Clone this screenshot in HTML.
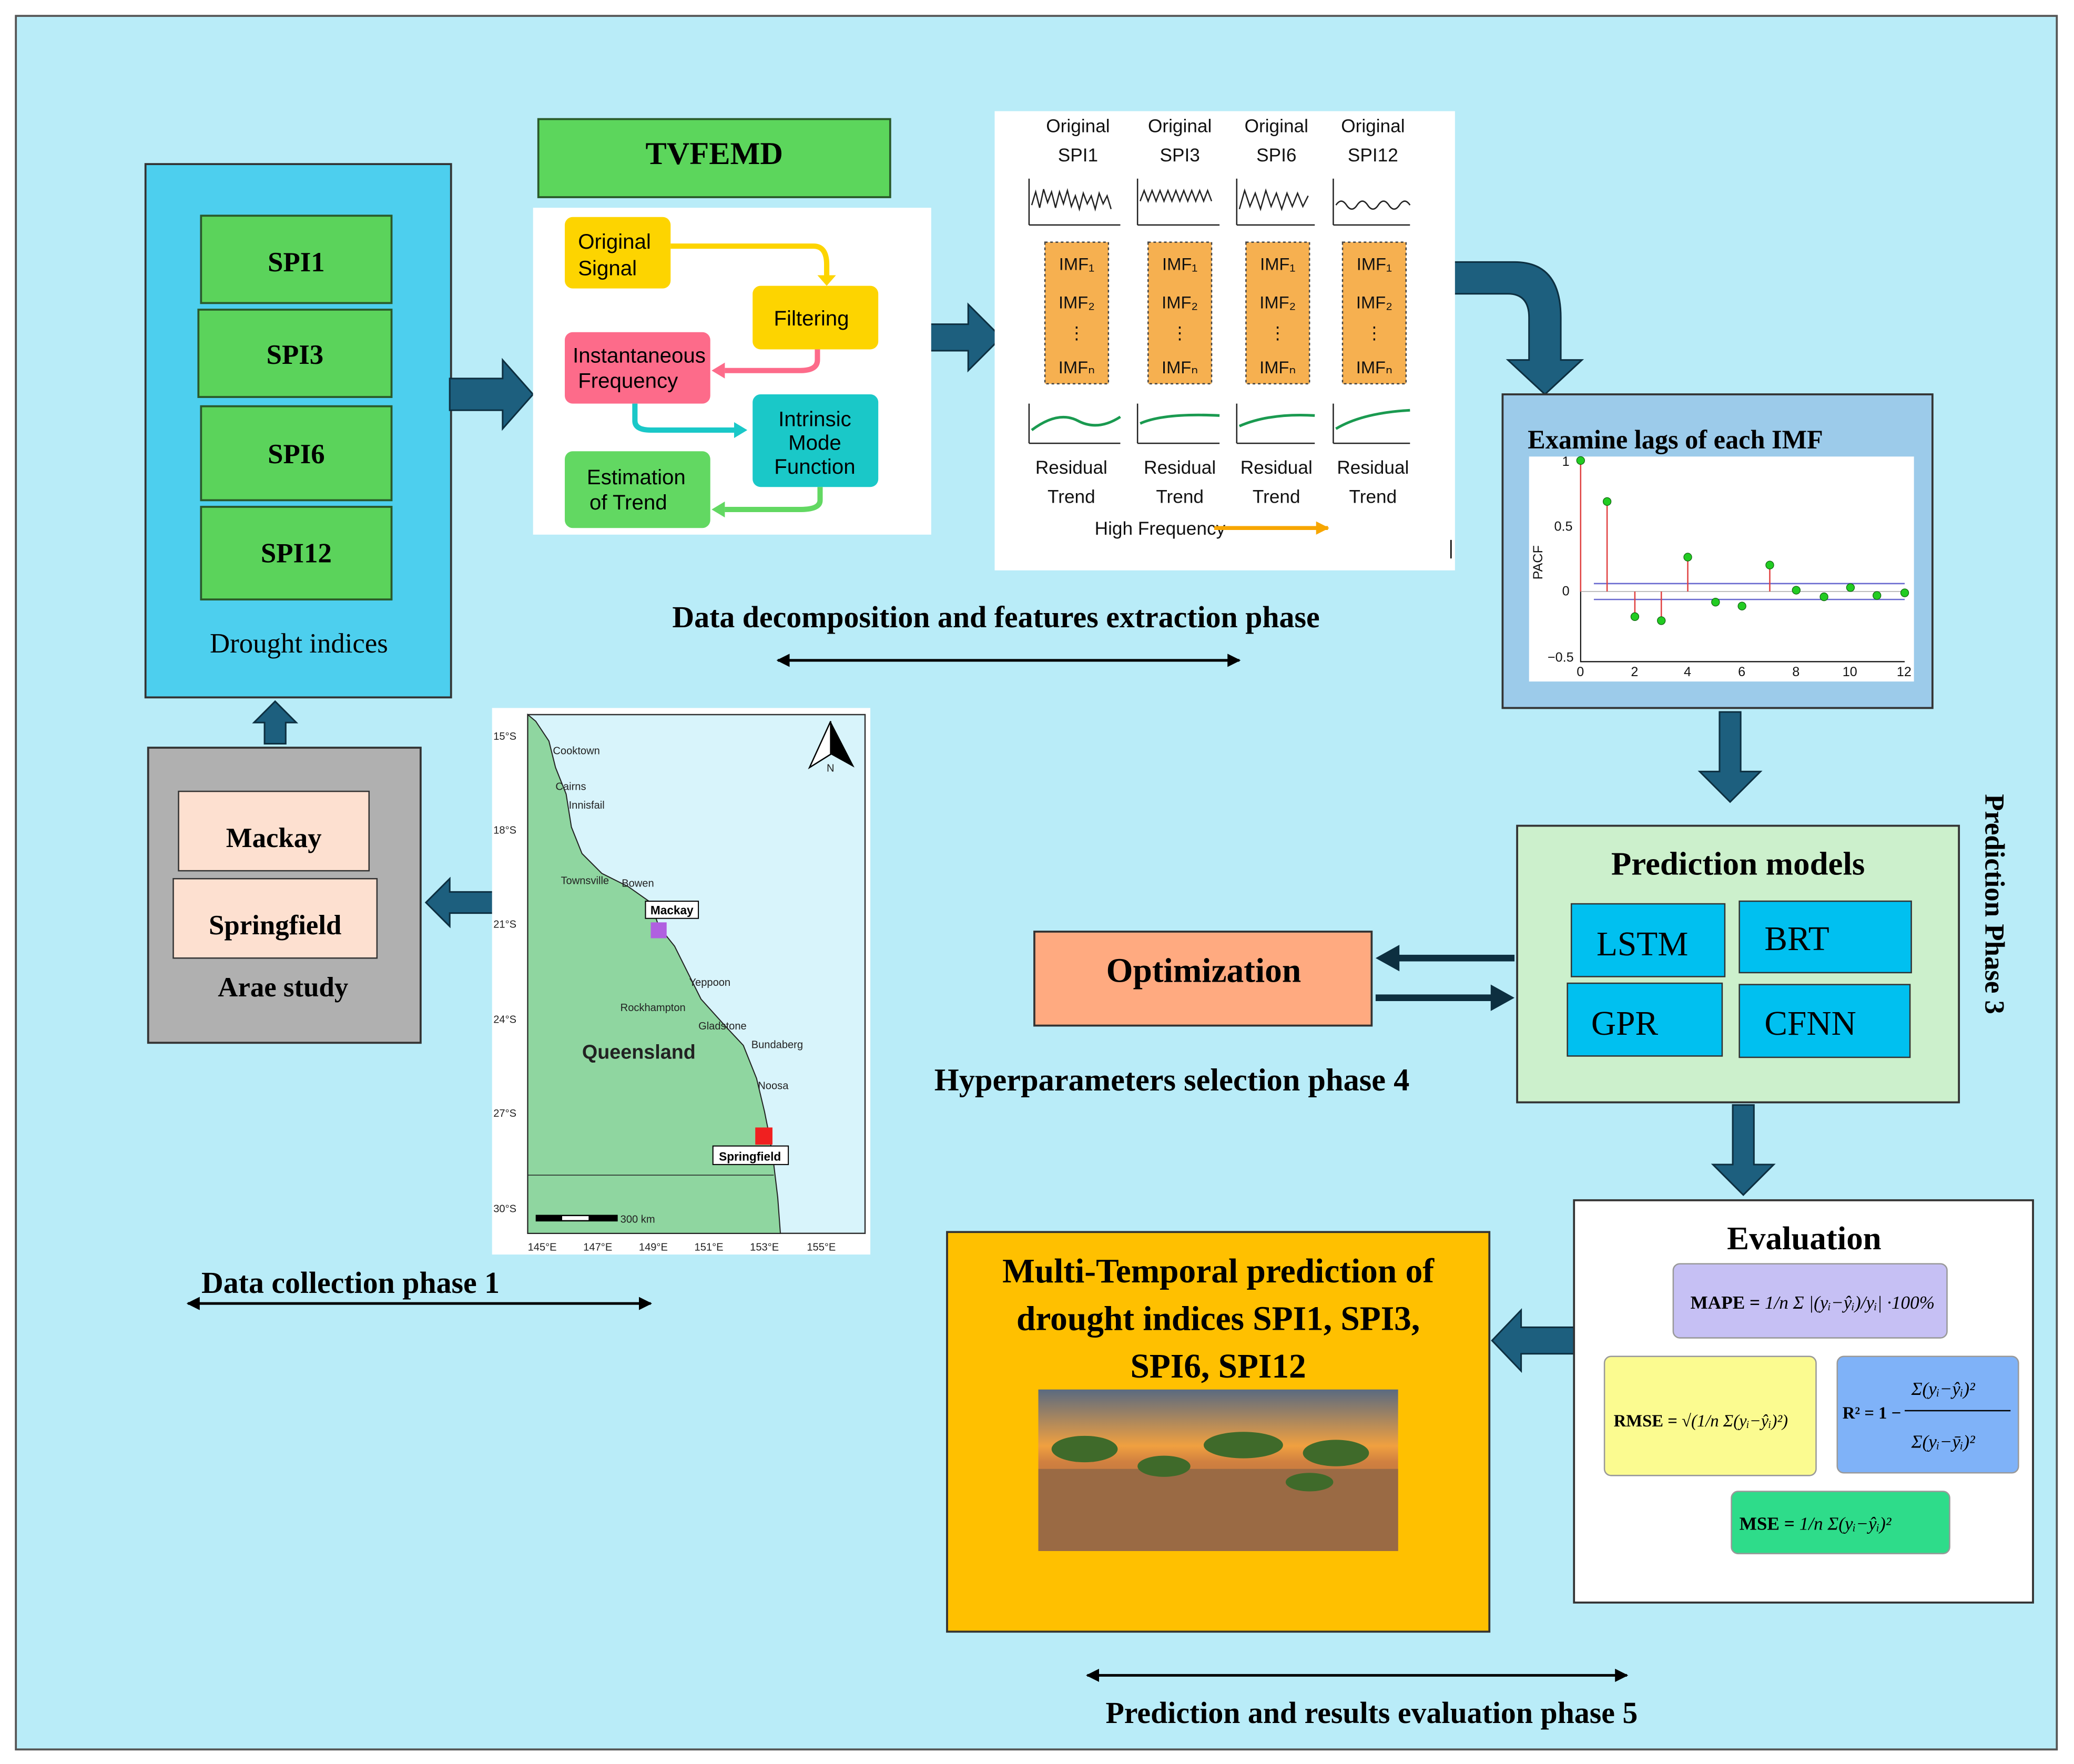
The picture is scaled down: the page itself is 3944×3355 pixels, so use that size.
<!DOCTYPE html>
<html><head><meta charset="utf-8"><style>
html,body{margin:0;padding:0;background:#fff;}
svg{display:block;}
text{font-family:"Liberation Serif",serif;}
.s text, text.s{font-family:"Liberation Sans",sans-serif;}
</style></head><body>
<svg width="3944" height="3355" viewBox="0 0 1568 1333" preserveAspectRatio="none" xmlns="http://www.w3.org/2000/svg">
<defs>
<marker id="ah" markerWidth="10" markerHeight="10" refX="9" refY="5" orient="auto-start-reverse" markerUnits="userSpaceOnUse"><path d="M0,0 L10,5 L0,10 z" fill="#000"/></marker>
<marker id="oa" markerWidth="10" markerHeight="10" refX="9" refY="5" orient="auto" markerUnits="userSpaceOnUse"><path d="M0,0 L10,5 L0,10 z" fill="#f7a600"/></marker>
<linearGradient id="sky" x1="0" y1="0" x2="0" y2="1"><stop offset="0" stop-color="#5a6a80"/><stop offset="0.35" stop-color="#f0a040"/><stop offset="0.45" stop-color="#d08040"/><stop offset="1" stop-color="#8a5a38"/></linearGradient>
</defs>
<rect x="0" y="0" width="1568" height="1333" fill="#fff"/>
<rect x="12" y="12" width="1543" height="1310" fill="#b9ecf8" stroke="#555" stroke-width="1.5"/>

<!-- Drought indices -->
<rect x="110" y="124" width="231" height="403" fill="#4dcfee" stroke="#333" stroke-width="1.5"/>
<g fill="#5bd35b" stroke="#2a5a2a" stroke-width="1.5">
<rect x="152" y="163" width="144" height="66"/><rect x="150" y="234" width="146" height="66"/>
<rect x="152" y="307" width="144" height="71"/><rect x="152" y="383" width="144" height="70"/></g>
<g font-size="21" font-weight="bold" text-anchor="middle"><text x="224" y="205">SPI1</text><text x="223" y="275">SPI3</text><text x="224" y="350">SPI6</text><text x="224" y="425">SPI12</text></g>
<text x="226" y="493" font-size="21" text-anchor="middle">Drought indices</text>

<!-- block arrows -->
<g fill="#1d5f7e" stroke="#0d2f40" stroke-width="1.2">
<polygon points="340,286 380,286 380,272 403,298 380,324 380,310 340,310"/>
<polygon points="692,245 732,245 732,230 757,255 732,280 732,265 692,265"/>
<polygon points="200,562 200,546 192,546 208,530 224,546 216,546 216,562"/>
<polygon points="392,674 340,674 340,664 322,682 340,700 340,690 392,690"/>
<path d="M1087,198 L1145,198 Q1180,198 1180,240 L1180,272 L1196,272 L1168,298 L1140,272 L1156,272 L1156,240 Q1156,222 1140,222 L1087,222 Z"/>
<polygon points="1300,538 1316,538 1316,583 1331,583 1308,606 1285,583 1300,583"/>
<polygon points="1310,835 1326,835 1326,880 1341,880 1318,903 1295,880 1310,880"/>
<polygon points="1192,1003 1150,1003 1150,990 1128,1013 1150,1036 1150,1023 1192,1023"/>
</g>
<g stroke="#0d2f40" stroke-width="5" fill="none">
<line x1="1145" y1="724" x2="1055" y2="724"/><line x1="1040" y1="754" x2="1130" y2="754"/></g>
<polygon points="1040,724 1058,714 1058,734" fill="#0d2f40"/>
<polygon points="1145,754 1127,744 1127,764" fill="#0d2f40"/>

<!-- Area study -->
<rect x="112" y="565" width="206" height="223" fill="#b0b0b0" stroke="#333" stroke-width="1.5"/>
<rect x="135" y="598" width="144" height="60" fill="#fde0d0" stroke="#333"/>
<rect x="131" y="664" width="154" height="60" fill="#fde0d0" stroke="#333"/>
<g font-size="21" font-weight="bold" text-anchor="middle"><text x="207" y="640">Mackay</text><text x="208" y="706">Springfield</text><text x="214" y="753">Arae study</text></g>

<!-- Map -->
<rect x="372" y="535" width="286" height="413" fill="#fff"/>
<rect x="399" y="540" width="255" height="392" fill="#d8f4fb" stroke="#333"/>
<path d="M399,540 L405,545 L415,560 L420,580 L428,600 L432,625 L440,645 L455,660 L475,670 L492,682 L498,700 L510,715 L520,735 L530,755 L548,775 L562,790 L572,815 L578,840 L582,860 L585,880 L588,905 L590,932 L399,932 Z" fill="#8fd6a0" stroke="#222" stroke-width="0.8"/>
<line x1="399" y1="888" x2="585" y2="888" stroke="#222" stroke-width="0.6"/>
<rect x="492" y="697" width="12" height="12" fill="#b060e0"/><rect x="571" y="852" width="13" height="13" fill="#f02020"/>
<rect x="488" y="681" width="40" height="13" fill="#fff" stroke="#000" stroke-width="0.8"/><text x="508" y="691" class="s" font-size="9" font-weight="bold" text-anchor="middle">Mackay</text>
<rect x="539" y="866" width="57" height="14" fill="#fff" stroke="#000" stroke-width="0.8"/><text x="567" y="877" class="s" font-size="9" font-weight="bold" text-anchor="middle">Springfield</text>
<text x="483" y="800" class="s" font-size="15" font-weight="bold" text-anchor="middle" fill="#222">Queensland</text>
<g class="s" font-size="8" fill="#222"><text x="418" y="570">Cooktown</text><text x="420" y="597">Cairns</text><text x="430" y="611">Innisfail</text><text x="424" y="668">Townsville</text><text x="470" y="670">Bowen</text><text x="521" y="745">Yeppoon</text><text x="469" y="764">Rockhampton</text><text x="528" y="778">Gladstone</text><text x="568" y="792">Bundaberg</text><text x="573" y="823">Noosa</text>
<text x="373" y="559">15°S</text><text x="373" y="630">18°S</text><text x="373" y="701">21°S</text><text x="373" y="773">24°S</text><text x="373" y="844">27°S</text><text x="373" y="916">30°S</text>
<text x="399" y="945">145°E</text><text x="441" y="945">147°E</text><text x="483" y="945">149°E</text><text x="525" y="945">151°E</text><text x="567" y="945">153°E</text><text x="610" y="945">155°E</text><text x="469" y="924">300 km</text><text x="625" y="583">N</text></g>
<rect x="405" y="918" width="62" height="5" fill="#000"/><rect x="425" y="919" width="20" height="3" fill="#fff"/>
<polygon points="628,545 612,580 628,570" fill="#fff" stroke="#000"/><polygon points="628,545 646,580 628,570" fill="#000"/>

<!-- TVFEMD -->
<rect x="407" y="90" width="266" height="59" fill="#5cd65c" stroke="#2a5a2a" stroke-width="1.5"/>
<text x="540" y="124" font-size="24" font-weight="bold" text-anchor="middle">TVFEMD</text>
<rect x="403" y="157" width="301" height="247" fill="#fff"/>
<g class="s" font-size="16">
<rect x="427" y="164" width="80" height="54" rx="6" fill="#fdd400"/><text x="437" y="188">Original</text><text x="437" y="208">Signal</text>
<rect x="569" y="216" width="95" height="48" rx="6" fill="#fdd400"/><text x="585" y="246">Filtering</text>
<rect x="427" y="251" width="110" height="54" rx="6" fill="#fd6b8a"/><text x="433" y="274">Instantaneous</text><text x="437" y="293">Frequency</text>
<rect x="569" y="298" width="95" height="70" rx="6" fill="#1ac8c8"/><text x="616" y="322" text-anchor="middle">Intrinsic</text><text x="616" y="340" text-anchor="middle">Mode</text><text x="616" y="358" text-anchor="middle">Function</text>
<rect x="427" y="341" width="110" height="58" rx="6" fill="#62d862"/><text x="481" y="366" text-anchor="middle">Estimation</text><text x="475" y="385" text-anchor="middle">of Trend</text></g>
<g fill="none" stroke-width="4"><path d="M507,186 H615 Q625,186 625,200 V208" stroke="#fdd400"/><path d="M618,264 V272 Q618,280 605,280 H548" stroke="#fd6b8a"/><path d="M480,305 V318 Q480,325 492,325 H555" stroke="#1ac8c8"/><path d="M620,368 V378 Q620,385 605,385 H548" stroke="#62d862"/></g>
<polygon points="618,208 632,208 625,216" fill="#fdd400"/><polygon points="548,274 548,286 538,280" fill="#fd6b8a"/><polygon points="555,319 555,331 565,325" fill="#1ac8c8"/><polygon points="548,379 548,391 538,385" fill="#62d862"/>

<!-- IMF figure -->
<rect x="752" y="84" width="348" height="347" fill="#fff"/>
<g class="s" font-size="14" text-anchor="middle" fill="#111">
<text x="815" y="100">Original</text><text x="815" y="122">SPI1</text><text x="892" y="100">Original</text><text x="892" y="122">SPI3</text><text x="965" y="100">Original</text><text x="965" y="122">SPI6</text><text x="1038" y="100">Original</text><text x="1038" y="122">SPI12</text>
<text x="810" y="358">Residual</text><text x="810" y="380">Trend</text><text x="892" y="358">Residual</text><text x="892" y="380">Trend</text><text x="965" y="358">Residual</text><text x="965" y="380">Trend</text><text x="1038" y="358">Residual</text><text x="1038" y="380">Trend</text>
<text x="877" y="404">High Frequency</text></g>
<line x1="918" y1="399" x2="1004" y2="399" stroke="#f7a600" stroke-width="3" marker-end="url(#oa)"/>
<g fill="none" stroke="#222" stroke-width="1">
<path d="M778,170 V135 M778,170 H847"/><path d="M860,170 V135 M860,170 H922"/><path d="M935,170 V135 M935,170 H994"/><path d="M1008,170 V135 M1008,170 H1066"/>
<path d="M780,155 l3,-10 3,12 3,-14 3,10 3,-8 3,12 3,-12 3,9 3,-10 3,12 3,-8 3,10 3,-12 3,8 3,-6 3,10 3,-12 3,8 3,-6 3,10"/>
<path d="M862,152 l3,-8 3,8 3,-8 3,8 3,-8 3,8 3,-8 3,8 3,-8 3,8 3,-8 3,8 3,-8 3,8 3,-8 3,8 3,-8 3,8"/>
<path d="M937,158 l4,-14 4,12 4,-10 4,12 4,-14 4,12 4,-10 4,12 4,-12 4,10 4,-10 4,10 4,-8"/>
<path d="M1010,155 q4,-6 8,0 t8,0 t8,0 t8,0 t8,0 t8,0 t8,0"/>
<path d="M778,335 V305 M778,335 H847"/><path d="M860,335 V305 M860,335 H922"/><path d="M935,335 V305 M935,335 H994"/><path d="M1008,335 V305 M1008,335 H1066"/></g>
<g fill="none" stroke="#1a9a50" stroke-width="2"><path d="M780,325 Q800,310 815,318 T847,315"/><path d="M862,320 Q880,312 922,314"/><path d="M937,322 Q960,312 994,314"/><path d="M1010,324 Q1030,312 1066,310"/></g>
<g fill="#f6b050" stroke="#444" stroke-dasharray="2,2">
<rect x="790" y="183" width="48" height="107"/><rect x="868" y="183" width="48" height="107"/><rect x="942" y="183" width="48" height="107"/><rect x="1015" y="183" width="48" height="107"/></g>
<g class="s" font-size="13" text-anchor="middle" fill="#111">
<text x="814" y="204">IMF₁</text><text x="814" y="233">IMF₂</text><text x="814" y="256">⋮</text><text x="814" y="282">IMFₙ</text>
<text x="892" y="204">IMF₁</text><text x="892" y="233">IMF₂</text><text x="892" y="256">⋮</text><text x="892" y="282">IMFₙ</text>
<text x="966" y="204">IMF₁</text><text x="966" y="233">IMF₂</text><text x="966" y="256">⋮</text><text x="966" y="282">IMFₙ</text>
<text x="1039" y="204">IMF₁</text><text x="1039" y="233">IMF₂</text><text x="1039" y="256">⋮</text><text x="1039" y="282">IMFₙ</text></g>
<line x1="1097" y1="408" x2="1097" y2="422" stroke="#000"/>

<text x="753" y="474" font-size="23" font-weight="bold" text-anchor="middle">Data decomposition and features extraction phase</text>
<line x1="588" y1="499" x2="937" y2="499" stroke="#000" stroke-width="2" marker-start="url(#ah)" marker-end="url(#ah)"/>

<!-- PACF -->
<rect x="1136" y="298" width="325" height="237" fill="#9ccbea" stroke="#333" stroke-width="1.5"/>
<text x="1155" y="339" font-size="20" font-weight="bold">Examine   lags of each IMF</text>
<rect x="1156" y="345" width="291" height="170" fill="#fff"/>
<g fill="none" stroke="#000" stroke-width="0.8"><path d="M1195,348 V500 H1440"/></g>
<g stroke="#6a6ad0" stroke-width="1"><line x1="1205" y1="441" x2="1440" y2="441"/><line x1="1205" y1="453" x2="1440" y2="453"/></g>
<line x1="1195" y1="447" x2="1440" y2="447" stroke="#aaa" stroke-width="0.6"/>
<g stroke="#e04040" stroke-width="1"><line x1="1195" y1="447" x2="1195" y2="348"/><line x1="1215" y1="447" x2="1215" y2="379"/><line x1="1236" y1="447" x2="1236" y2="466"/><line x1="1256" y1="447" x2="1256" y2="469"/><line x1="1276" y1="447" x2="1276" y2="421"/><line x1="1338" y1="447" x2="1338" y2="427"/></g>
<g fill="#22cc22" stroke="#116611" stroke-width="0.5"><circle cx="1195" cy="348" r="3"/><circle cx="1215" cy="379" r="3"/><circle cx="1236" cy="466" r="3"/><circle cx="1256" cy="469" r="3"/><circle cx="1276" cy="421" r="3"/><circle cx="1297" cy="455" r="3"/><circle cx="1317" cy="458" r="3"/><circle cx="1338" cy="427" r="3"/><circle cx="1358" cy="446" r="3"/><circle cx="1379" cy="451" r="3"/><circle cx="1399" cy="444" r="3"/><circle cx="1419" cy="450" r="3"/><circle cx="1440" cy="448" r="3"/></g>
<g class="s" font-size="10" fill="#111"><text x="1181" y="352">1</text><text x="1175" y="401">0.5</text><text x="1181" y="450">0</text><text x="1170" y="500">−0.5</text>
<text x="1192" y="511">0</text><text x="1233" y="511">2</text><text x="1273" y="511">4</text><text x="1314" y="511">6</text><text x="1355" y="511">8</text><text x="1393" y="511">10</text><text x="1434" y="511">12</text>
<text transform="translate(1166,438) rotate(-90)">PACF</text></g>

<!-- Prediction models -->
<rect x="1147" y="624" width="334" height="209" fill="#ccf0cc" stroke="#333" stroke-width="1.5"/>
<text x="1314" y="661" font-size="25" font-weight="bold" text-anchor="middle">Prediction models</text>
<g fill="#00c0f0" stroke="#333"><rect x="1188" y="683" width="116" height="55"/><rect x="1315" y="681" width="130" height="54"/><rect x="1185" y="743" width="117" height="55"/><rect x="1315" y="744" width="129" height="55"/></g>
<g font-size="26"><text x="1207" y="722">LSTM</text><text x="1334" y="718">BRT</text><text x="1203" y="782">GPR</text><text x="1334" y="782">CFNN</text></g>
<text transform="translate(1501,600) rotate(90)" font-size="21" font-weight="bold">Prediction Phase 3</text>

<rect x="782" y="704" width="255" height="71" fill="#ffaa80" stroke="#333" stroke-width="1.5"/>
<text x="910" y="742" font-size="26" font-weight="bold" text-anchor="middle">Optimization</text>
<text x="886" y="824" font-size="24" font-weight="bold" text-anchor="middle">Hyperparameters selection phase 4</text>

<!-- Evaluation -->
<rect x="1190" y="907" width="347" height="304" fill="#fff" stroke="#333" stroke-width="1.5"/>
<text x="1364" y="944" font-size="25" font-weight="bold" text-anchor="middle">Evaluation</text>
<rect x="1265" y="955" width="207" height="56" rx="5" fill="#c6c0f4" stroke="#999"/>
<text x="1278" y="989" font-size="14" font-weight="bold">MAPE = <tspan font-weight="normal" font-style="italic">1/n Σ |(yᵢ−ŷᵢ)/yᵢ| ·100%</tspan></text>
<rect x="1213" y="1025" width="160" height="90" rx="5" fill="#fbfb90" stroke="#999"/>
<text x="1220" y="1078" font-size="13" font-weight="bold">RMSE = <tspan font-weight="normal" font-style="italic">√(1/n Σ(yᵢ−ŷᵢ)²)</tspan></text>
<rect x="1389" y="1025" width="137" height="88" rx="5" fill="#7fb2f8" stroke="#999"/>
<text x="1393" y="1072" font-size="13" font-weight="bold">R² = 1 − </text>
<text x="1445" y="1054" font-size="14" font-style="italic">Σ(yᵢ−ŷᵢ)²</text><line x1="1440" y1="1066" x2="1520" y2="1066" stroke="#000"/><text x="1445" y="1094" font-size="14" font-style="italic">Σ(yᵢ−ȳᵢ)²</text>
<rect x="1309" y="1127" width="165" height="47" rx="5" fill="#2edc8a" stroke="#999"/>
<text x="1315" y="1156" font-size="14" font-weight="bold">MSE = <tspan font-weight="normal" font-style="italic">1/n Σ(yᵢ−ŷᵢ)²</tspan></text>

<!-- Multi-temporal -->
<rect x="716" y="931" width="410" height="302" fill="#ffc000" stroke="#333" stroke-width="1.5"/>
<g font-size="26" font-weight="bold" text-anchor="middle"><text x="921" y="969">Multi-Temporal prediction of</text><text x="921" y="1005">drought indices SPI1, SPI3,</text><text x="921" y="1041">SPI6, SPI12</text></g>
<rect x="785" y="1050" width="272" height="122" fill="url(#sky)"/>
<rect x="785" y="1110" width="272" height="62" fill="#9a6a44"/>
<g fill="#3f6a2a"><ellipse cx="820" cy="1095" rx="25" ry="10"/><ellipse cx="940" cy="1092" rx="30" ry="10"/><ellipse cx="1010" cy="1098" rx="25" ry="10"/><ellipse cx="880" cy="1108" rx="20" ry="8"/><ellipse cx="990" cy="1120" rx="18" ry="7"/></g>

<text x="265" y="977" font-size="23" font-weight="bold" text-anchor="middle">Data collection phase 1</text>
<line x1="142" y1="985" x2="492" y2="985" stroke="#000" stroke-width="2" marker-start="url(#ah)" marker-end="url(#ah)"/>
<line x1="822" y1="1266" x2="1230" y2="1266" stroke="#000" stroke-width="2" marker-start="url(#ah)" marker-end="url(#ah)"/>
<text x="1037" y="1302" font-size="23" font-weight="bold" text-anchor="middle">Prediction and results evaluation phase 5</text>
</svg>
</body></html>
